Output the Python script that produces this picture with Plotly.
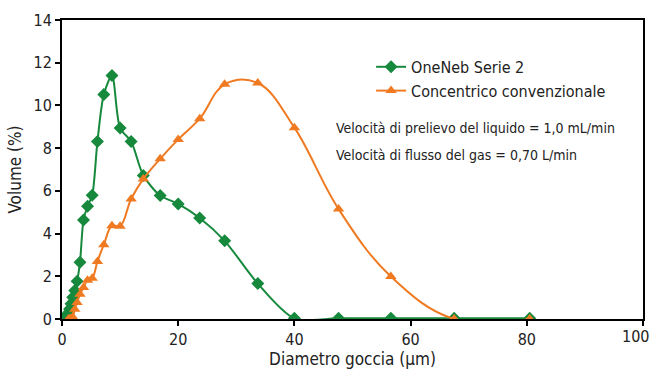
import plotly.graph_objects as go

# Droplet diameter (µm) and volume (%)
oneneb_x = [0.5, 0.9, 1.3, 1.55, 1.85, 2.2, 2.6, 3.1, 3.7, 4.4, 5.2, 6.1, 7.2, 8.6,
            10.0, 11.9, 14.0, 16.9, 20.0, 23.7, 28.0, 33.7, 40.0, 47.6, 56.6, 67.5, 80.5]
oneneb_y = [0.05, 0.24, 0.47, 0.71, 1.02, 1.33, 1.77, 2.66, 4.63, 5.28, 5.80, 8.31, 10.51, 11.40,
            8.94, 8.31, 6.72, 5.78, 5.39, 4.73, 3.66, 1.66, 0.03, 0.03, 0.03, 0.03, 0.03]

conc_x = [1.1, 1.3, 1.55, 1.85, 2.2, 2.6, 3.1, 3.7, 4.4, 5.2, 6.1, 7.2, 8.6, 10.0,
          11.9, 14.0, 16.9, 20.0, 23.7, 28.0, 33.7, 40.0, 47.6, 56.6, 67.5, 80.5]
conc_y = [0.0, 0.0, 0.02, 0.09, 0.46, 0.77, 1.16, 1.47, 1.82, 1.91, 2.69, 3.48, 4.37, 4.34,
          5.62, 6.56, 7.50, 8.41, 9.38, 10.99, 11.05, 8.96, 5.15, 1.99, 0.0, 0.0]

x_ticks = [0, 20, 40, 60, 80, 100]
x_ticklabels = ["0", "20", "40", "60", "80", "100"]
y_ticks = [0, 2, 4, 6, 8, 10, 12, 14]

GREEN = "#17893d"
ORANGE = "#f07a22"
FONT = "DejaVu Sans Condensed, sans-serif"

fig = go.Figure()
fig.add_trace(go.Scatter(
    x=oneneb_x, y=oneneb_y, name="OneNeb Serie 2",
    mode="lines+markers",
    line=dict(color=GREEN, width=2, shape="spline", smoothing=0.8),
    marker=dict(symbol="diamond", size=10, color=GREEN),
))
fig.add_trace(go.Scatter(
    x=conc_x, y=conc_y, name="Concentrico convenzionale",
    mode="lines+markers",
    line=dict(color=ORANGE, width=2, shape="spline", smoothing=1.1),
    marker=dict(symbol="triangle-up", size=10, color=ORANGE),
))

fig.add_annotation(x=0.468, y=0.64, xref="paper", yref="paper", xanchor="left", yanchor="middle",
                   text="Velocità di prelievo del liquido = 1,0 mL/min", showarrow=False,
                   font=dict(size=14, color="#222", family=FONT))
fig.add_annotation(x=0.468, y=0.549, xref="paper", yref="paper", xanchor="left", yanchor="middle",
                   text="Velocità di flusso del gas = 0,70 L/min", showarrow=False,
                   font=dict(size=14, color="#222", family=FONT))

# last tick label placed as annotation so it stays inside the page, like the reference
fig.add_annotation(x=x_ticks[-1], y=0, xref="x", yref="paper", xanchor="center", yanchor="top",
                   xshift=-8, yshift=-6, text=x_ticklabels[-1], showarrow=False,
                   font=dict(size=16, color="#222", family=FONT))

fig.update_layout(
    width=652, height=370,
    margin=dict(l=62, r=9, t=20, b=51),
    paper_bgcolor="white", plot_bgcolor="white",
    font=dict(family=FONT, size=16, color="#222"),
    showlegend=True,
    legend=dict(x=0.532, y=0.9, xanchor="left", yanchor="top",
                bgcolor="rgba(0,0,0,0)", font=dict(size=16, family=FONT, color="#222"),
                itemwidth=30, tracegroupgap=0),
    xaxis=dict(range=[0, 100], tickvals=x_ticks,
               ticktext=x_ticklabels[:-1] + [""],
               showgrid=False, zeroline=False,
               showline=True, linecolor="black", linewidth=2, mirror=True,
               ticks="outside", ticklen=5, tickwidth=2, tickcolor="black",
               automargin=False,
               title=dict(text="Diametro goccia (µm)", standoff=4, font=dict(size=17)),
               tickfont=dict(size=16)),
    yaxis=dict(range=[0, 14], tickvals=y_ticks, showgrid=False, zeroline=False,
               showline=True, linecolor="black", linewidth=2, mirror=True,
               ticks="outside", ticklen=5, tickwidth=2, tickcolor="black",
               automargin=False,
               title=dict(text="Volume (%)", standoff=8, font=dict(size=17)),
               tickfont=dict(size=16)),
)

fig.write_html("out.html")
